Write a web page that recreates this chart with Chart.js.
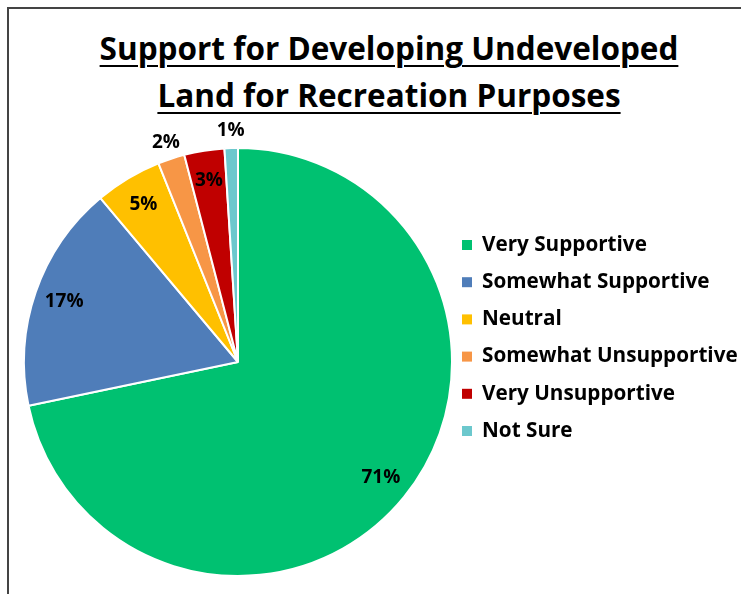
<!DOCTYPE html>
<html>
<head>
<meta charset="utf-8">
<script src="https://cdn.jsdelivr.net/npm/chart.js@4/dist/chart.umd.min.js"></script>
<style>
  html, body { margin: 0; padding: 0; background: #fff; overflow: hidden; }
  #wrap { position: relative; width: 741px; height: 594px; }
  #frame { position: absolute; left: 7px; top: 7px; width: 800px; height: 700px; border: 2px solid #444; box-sizing: border-box; }
  #title { position: absolute; left: 0; top: 24px; width: 778px; text-align: center;
           font-family: "Open Sans", sans-serif; font-weight: bold; font-size: 31.5px; line-height: 47px;
           text-decoration: underline; text-decoration-thickness: 2px; text-underline-offset: 5px; color: #000; }
  canvas { position: absolute; left: 0; top: 0; }
</style>
</head>
<body>
<div id="wrap">
  <div id="frame"></div>
  <div id="title">Support for Developing Undeveloped<br>Land for Recreation Purposes</div>
  <canvas id="pie" width="741" height="594"></canvas>
</div>
<script>
var categories = ['Very Supportive', 'Somewhat Supportive', 'Neutral', 'Somewhat Unsupportive', 'Very Unsupportive', 'Not Sure']
var percents = [71, 17, 5, 2, 3, 1]
var colors = ['#00C171', '#4F7DB9', '#FFC000', '#F79646', '#C00000', '#6CC8CD']

// percent labels: big slices inside, thin slices just outside the rim
var sliceLabels = {
  id: 'sliceLabels',
  afterDatasetsDraw: function (chart) {
    var ctx = chart.ctx
    var meta = chart.getDatasetMeta(0)
    ctx.save()
    ctx.font = 'bold 19px "Open Sans", sans-serif'
    ctx.fillStyle = '#000'
    ctx.textAlign = 'center'
    ctx.textBaseline = 'middle'
    meta.data.forEach(function (arc, i) {
      var p = arc.getProps(['x', 'y', 'startAngle', 'endAngle', 'outerRadius'], true)
      var mid = (p.startAngle + p.endAngle) / 2
      var r = p.outerRadius * (percents[i] >= 3 ? 0.86 : 1.08)
      ctx.fillText(percents[i] + '%', p.x + Math.cos(mid) * r, p.y + Math.sin(mid) * r)
    })
    ctx.restore()
  }
}

// legend on the right, one row per category
var sideLegend = {
  id: 'sideLegend',
  afterDraw: function (chart) {
    var ctx = chart.ctx
    ctx.save()
    ctx.font = 'bold 20.7px "Open Sans", sans-serif'
    ctx.textBaseline = 'middle'
    categories.forEach(function (name, i) {
      var y = 245 + i * 37.2
      ctx.fillStyle = colors[i]
      ctx.fillRect(462, y - 5, 10, 10)
      ctx.fillStyle = '#000'
      ctx.fillText(name, 482, y)
    })
    ctx.restore()
  }
}

new Chart(document.getElementById('pie'), {
  type: 'pie',
  data: {
    labels: categories,
    datasets: [{
      data: percents,
      backgroundColor: colors,
      borderColor: '#fff',
      borderWidth: 2
    }]
  },
  options: {
    responsive: false,
    animation: false,
    layout: { padding: { left: 23, top: 147, right: 288, bottom: 17 } },
    plugins: {
      legend: { display: false },
      tooltip: { enabled: false }
    }
  },
  plugins: [sliceLabels, sideLegend]
})
</script>
</body>
</html>
